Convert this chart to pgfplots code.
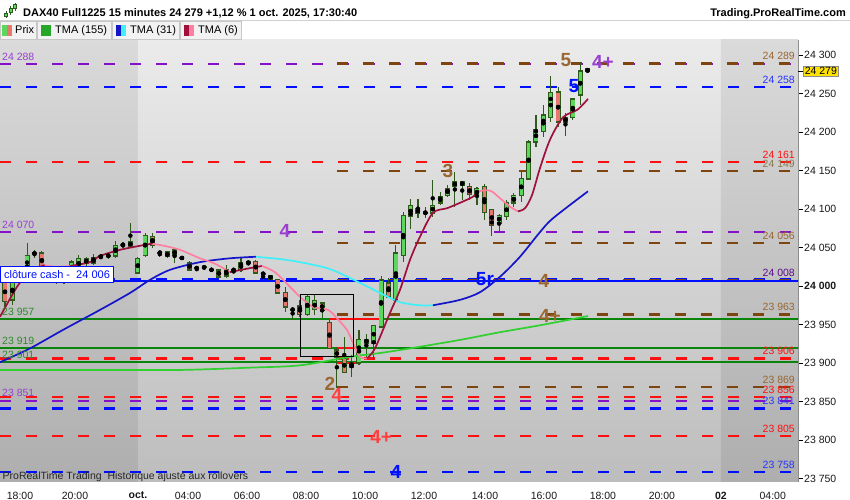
\documentclass[border=0pt]{standalone}
\usepackage{pgfplots}
\pgfplotsset{compat=1.18}
\usepackage{pgfplotstable}
\usepackage{fontspec}
\setmainfont{Liberation Sans}

\definecolor{cUp}{HTML}{5CD65C}
\definecolor{cDn}{HTML}{E8786E}
\definecolor{cWick}{HTML}{2E5A1C}
\definecolor{lvBrown}{HTML}{7F4510}
\definecolor{txBrown}{HTML}{9A6632}
\definecolor{lvPurple}{HTML}{8410C8}
\definecolor{txPurple}{HTML}{9A3FD0}
\definecolor{lvBlue}{HTML}{0010FF}
\definecolor{lvRed}{HTML}{FF1010}
\definecolor{lvGreen}{HTML}{0A840A}
\definecolor{txGreen}{HTML}{2E8B2E}
\definecolor{maGreen}{HTML}{30D030}
\definecolor{maBlue}{HTML}{1414C8}
\definecolor{maCyan}{HTML}{40F0F8}
\definecolor{maDark}{HTML}{A0103C}
\definecolor{maPink}{HTML}{FF7FA0}
\definecolor{bgAtop}{HTML}{DADADA}
\definecolor{bgAbot}{HTML}{AEAEAE}
\definecolor{bgBtop}{HTML}{EBEBEB}
\definecolor{bgBbot}{HTML}{BDBDBD}

% 15 min candles, k = bar index (k=25 is 04:00, k=79 is 17:30)
\pgfplotstableread{
k O H L C
1 23982 24012 23975 24008
2 24008 24016 24004 24012
3 24010 24056 24005 24040
4 24042 24047 24036 24043
9 24015 24034 24005 24031
10 24023 24040 24018 24036
12 24029 24042 24027 24037
13 24038 24040 24035 24039
14 24039 24043 24035 24040
15 24039 24058 24037 24053
16 24053 24057 24049 24054
17 24051 24082 24049 24058
18 24017 24038 24015 24036
19 24040 24069 24038 24066
21 24043 24045 24038 24044
22 24038 24046 24036 24044
26 24023 24025 24019 24024
27 24024 24026 24022 24025
28 24021 24022 24020 24021
30 24013 24027 24010 24021
31 24021 24021 24017 24021
32 24021 24038 24018 24030
33 24030 24031 24028 24031
35 24016 24016 24008 24016
39 23969 23973 23956 23970
41 23963 23990 23961 23986
42 23970 23988 23962 23981
47 23895 23910 23882 23901
48 23900 23943 23897 23931
50 23926 23950 23904 23949
51 23947 24013 23945 24008
53 23982 24053 23980 24043
54 24040 24096 24031 24092
55 24090 24113 24074 24105
57 24095 24103 24088 24095
58 24095 24138 24090 24105
59 24108 24122 24105 24116
60 24118 24131 24116 24127
61 24130 24148 24103 24135
64 24117 24129 24105 24127
67 24082 24093 24069 24092
68 24090 24112 24086 24108
69 24108 24121 24103 24118
70 24118 24148 24109 24140
71 24139 24190 24138 24187
72 24187 24222 24180 24203
73 24201 24235 24194 24222
74 24219 24273 24213 24251
76 24213 24225 24195 24219
77 24219 24243 24216 24243
78 24248 24291 24235 24279
}\upbars

\pgfplotstableread{
k O H L C
0 24005 24015 23970 23980
5 24043 24045 24020 24024
6 24024 24028 24010 24015
7 24015 24025 24003 24012
8 24012 24022 24003 24010
11 24036 24038 24026 24029
20 24064 24069 24050 24053
23 24047 24048 24030 24040
24 24037 24038 24035 24036
25 24030 24033 24019 24021
29 24021 24022 24011 24012
34 24032 24034 24016 24017
36 24014 24015 24008 24009
37 24008 24009 23990 23991
38 23992 23999 23966 23973
40 23974 23982 23960 23963
43 23978 23979 23958 23969
44 23953 23956 23918 23919
45 23917 23921 23868 23908
46 23906 23934 23887 23888
49 23931 23938 23908 23926
52 24004 24010 23984 23986
56 24100 24113 24088 24095
62 24135 24136 24112 24131
63 24129 24134 24112 24119
65 24129 24132 24086 24096
66 24099 24100 24065 24079
75 24252 24258 24206 24213
79 24282 24283 24276 24279
}\downbars

\pgfplotsset{
  bar part/.style 2 args={only marks, mark=none, forget plot,
    error bars/.cd, y dir=both, y explicit, error mark=none,
    error bar style={line width=#1, color=#2}},
  lvl/.style={line width=2.2bp, dash pattern=on 11bp off 15bp, forget plot, mark=none},
  solidlvl/.style={line width=2bp, forget plot, mark=none},
  ma/.style={line width=1.7bp, smooth, tension=0.5, forget plot, mark=none},
}
\tikzset{
  rlab/.style={anchor=base east, inner sep=0pt, font=\fontsize{10.5bp}{12bp}\selectfont},
  llab/.style={anchor=base west, inner sep=0pt, font=\fontsize{10.5bp}{12bp}\selectfont},
  ann/.style={inner sep=0pt, font=\fontsize{19bp}{19bp}\selectfont\bfseries},
}

\begin{document}
\begin{tikzpicture}[x=1bp,y=1bp]
\useasboundingbox (0,0) rectangle (850,500);
\fill[white] (0,0) rectangle (850,500);

\begin{axis}[
  at={(0bp,18bp)}, anchor=south west,
  width=798bp, height=442bp, scale only axis,
  xmin=-0.678, xmax=107.53, ymin=23745.5, ymax=24319.5,
  axis x line*=bottom, axis y line*=right,
  x axis line style={draw=none},
  y axis line style={draw=black!40, line width=0.6bp},
  scaled y ticks=false, scaled x ticks=false,
  xtick={2.03,9.49,18.03,24.81,32.81,40.81,48.81,56.81,65.08,73.08,81.08,89.08,97.08,104.1},
  xticklabels={18:00,20:00,\textbf{oct.},04:00,06:00,08:00,10:00,12:00,14:00,16:00,18:00,20:00,\textbf{02},04:00},
  ytick={23750,23800,23850,23900,23950,24000,24050,24100,24150,24200,24250,24300},
  yticklabels={23 750,23 800,23 850,23 900,23 950,\textbf{24 000},24 050,24 100,24 150,24 200,24 250,24 300},
  xtick style={draw=none},
  ytick style={draw=black, line width=0.6bp},
  tick align=outside, major tick length=4.5bp,
  tick label style={font=\fontsize{10.5bp}{12bp}\selectfont, text=black!90},
  yticklabel style={inner sep=1.5bp},
  xticklabel style={inner sep=5bp},
]

% background bands (day shading)
\fill[top color=bgAtop, bottom color=bgAbot] (axis cs:-1,23745.5) rectangle (axis cs:18.03,24319.5);
\fill[top color=bgBtop, bottom color=bgBbot] (axis cs:18.03,23745.5) rectangle (axis cs:97.08,24319.5);
\fill[top color=bgAtop, bottom color=bgAbot] (axis cs:97.08,23745.5) rectangle (axis cs:109,24319.5);

% solid levels
\addplot[solidlvl, lvGreen] coordinates {(-1,23957) (109,23957)};
\addplot[solidlvl, lvGreen] coordinates {(-1,23919) (109,23919)};
\addplot[solidlvl, lvGreen] coordinates {(-1,23901) (109,23901)};

% dashed levels, full width
\addplot[lvl, lvPurple] coordinates {(-0.678,24288) (109,24288)};
\addplot[lvl, lvBlue] coordinates {(-0.678,24258) (109,24258)};
\addplot[lvl, lvRed] coordinates {(-0.678,24161) (109,24161)};
\addplot[lvl, lvPurple] coordinates {(-0.678,24070) (109,24070)};
\addplot[lvl, lvBlue] coordinates {(-0.678,24009) (109,24009)};
\addplot[lvl, lvRed] coordinates {(-0.678,23906) (109,23906)};
\addplot[lvl, lvRed] coordinates {(-0.678,23856) (109,23856)};
\addplot[lvl, lvPurple] coordinates {(-0.678,23851) (109,23851)};
\addplot[lvl, lvBlue] coordinates {(-0.678,23841) (109,23841)};
\addplot[lvl, lvRed] coordinates {(-0.678,23805) (109,23805)};
\addplot[lvl, lvBlue] coordinates {(-0.678,23758) (109,23758)};

% dashed levels from the 09:15 bar
\addplot[lvl, lvBrown] coordinates {(45,24289) (109,24289)};
\addplot[lvl, lvBrown] coordinates {(45,24149) (109,24149)};
\addplot[lvl, lvBrown] coordinates {(45,24056) (109,24056)};
\addplot[lvl, lvBrown] coordinates {(45,24008) (109,24008)};
\addplot[lvl, lvBrown] coordinates {(45,23963) (109,23963)};
\addplot[lvl, lvBrown] coordinates {(45,23869) (109,23869)};

% cash close
\addplot[solidlvl, lvBlue] coordinates {(-1,24006) (109,24006)};

% short red marks
\addplot[solidlvl, lvRed] coordinates {(44.07,23957) (51.1,23957)};
\addplot[solidlvl, lvRed] coordinates {(45,23919) (48.1,23919)};
\addplot[solidlvl, lvRed] coordinates {(45,23900) (48.1,23900)};

% candles: wicks, body outline, body fill
\addplot[bar part={1.1bp}{cWick}] table[x=k, y expr={(\thisrow{H}+\thisrow{L})/2}, y error expr={(\thisrow{H}-\thisrow{L})/2}] \upbars;
\addplot[bar part={1.1bp}{cWick}] table[x=k, y expr={(\thisrow{H}+\thisrow{L})/2}, y error expr={(\thisrow{H}-\thisrow{L})/2}] \downbars;
\addplot[bar part={5bp}{cWick}] table[x=k, y expr={(\thisrow{O}+\thisrow{C})/2}, y error expr={abs(\thisrow{O}-\thisrow{C})/2+0.9}] \upbars;
\addplot[bar part={5bp}{cWick}] table[x=k, y expr={(\thisrow{O}+\thisrow{C})/2}, y error expr={abs(\thisrow{O}-\thisrow{C})/2+0.9}] \downbars;
\addplot[bar part={3.3bp}{cUp}] table[x=k, y expr={(\thisrow{O}+\thisrow{C})/2}, y error expr={max(abs(\thisrow{O}-\thisrow{C})/2-0.8,0)}] \upbars;
\addplot[bar part={3.3bp}{cDn}] table[x=k, y expr={(\thisrow{O}+\thisrow{C})/2}, y error expr={max(abs(\thisrow{O}-\thisrow{C})/2-0.8,0)}] \downbars;

% TMA (155)
\addplot[ma, maGreen] coordinates {(-0.68,23891) (12.88,23891) (23.73,23891) (33.22,23894) (40.0,23897) (46.78,23908) (50.85,23913) (54.92,23919) (61.69,23930) (67.12,23940) (72.54,23949) (79.05,23961)};

% TMA (31)
\addplot[ma, maBlue] coordinates {(-0.68,23901) (3.39,23919) (7.86,23943) (12.88,23969) (16.95,23991) (19.66,24008) (22.37,24021) (26.44,24031) (30.51,24036) (34.03,24038)};
\addplot[ma, maCyan] coordinates {(34.03,24038) (37.29,24035) (40.0,24031) (44.07,24022) (48.14,24004) (50.85,23991) (53.56,23979) (56.27,23975) (58.03,23975)};
\addplot[ma, maBlue] coordinates {(58.03,23975) (61.69,23982) (64.41,23992) (67.12,24012) (69.83,24038) (72.54,24070) (74.31,24088) (79.05,24123)};

% TMA (6)
\addplot[ma, maDark] coordinates {(-0.68,23960) (1.63,23999) (2.98,24014) (4.75,24025) (5.4,24027)};
\addplot[ma, maPink] coordinates {(5.4,24027) (6.9,24025) (8.81,24026)};
\addplot[ma, maDark] coordinates {(8.81,24026) (11.53,24031) (12.88,24039) (15.59,24047) (18.71,24053) (19.93,24055)};
\addplot[ma, maPink] coordinates {(19.93,24055) (21.69,24052) (23.73,24047) (26.44,24036) (28.47,24029) (30.51,24018)};
\addplot[ma, maDark] coordinates {(30.51,24018) (32.54,24022) (34.85,24026)};
\addplot[ma, maPink] coordinates {(34.85,24026) (36.61,24018) (38.64,23999) (40.0,23986) (41.76,23973) (43.8,23969) (45.02,23958) (46.37,23943) (47.19,23926) (48.14,23908) (49.08,23906)};
\addplot[ma, maDark] coordinates {(49.08,23906) (50.17,23919) (52.2,23965) (53.56,23995) (54.92,24034) (56.27,24064) (58.03,24095) (59.93,24101) (61.69,24108) (63.46,24116) (64.14,24123)};
\addplot[ma, maPink] coordinates {(64.14,24123) (65.76,24124) (67.12,24114) (68.47,24103) (69.56,24097)};
\addplot[ma, maDark] coordinates {(69.56,24097) (70.51,24101) (71.46,24118) (72.54,24153) (73.9,24190) (75.66,24219) (77.63,24229) (79.05,24243)};

% frame drawn on the chart
\draw[black, line width=0.9bp] (axis cs:40.0,23989.6) rectangle (axis cs:47.19,23909);

% level labels, right
\node[rlab, text=txBrown] at (axis cs:107.12,24294) {24 289};
\node[rlab, text=lvBlue!85!white] at (axis cs:107.12,24263) {24 258};
\node[rlab, text=lvRed] at (axis cs:107.12,24166) {24 161};
\node[rlab, text=black!70!yellow!60!brown] at (axis cs:107.12,24154) {24 149};
\node[rlab, text=txBrown] at (axis cs:107.12,24061) {24 056};
\node[rlab, text=lvPurple!70!black] at (axis cs:107.12,24013) {24 008};
\node[rlab, text=txBrown] at (axis cs:107.12,23968) {23 963};
\node[rlab, text=lvRed] at (axis cs:107.12,23911) {23 906};
\node[rlab, text=txBrown] at (axis cs:107.12,23874) {23 869};
\node[rlab, text=lvRed] at (axis cs:107.12,23861) {23 856};
\node[rlab, text=lvBlue!85!white] at (axis cs:107.12,23846) {23 841};
\node[rlab, text=lvRed] at (axis cs:107.12,23810) {23 805};
\node[rlab, text=lvBlue!85!white] at (axis cs:107.12,23763) {23 758};

% level labels, left
\node[llab, text=txPurple] at (axis cs:-0.41,24293) {24 288};
\node[llab, text=txPurple] at (axis cs:-0.41,24075) {24 070};
\node[llab, text=txGreen] at (axis cs:-0.41,23962) {23 957};
\node[llab, text=txGreen] at (axis cs:-0.41,23924) {23 919};
\node[llab, text=txGreen] at (axis cs:-0.41,23906) {23 901};
\node[llab, text=txPurple] at (axis cs:-0.41,23856) {23 851};

% wave marks
\node[ann, text=txBrown] at (axis cs:76.07,24293) {5};
\node[ann, text=txPurple] at (axis cs:81.08,24291) {4+};
\node[ann, text=lvBlue] at (axis cs:77.15,24260) {5};
\node[ann, text=txBrown] at (axis cs:60.07,24149) {3};
\node[ann, text=txPurple] at (axis cs:37.97,24071) {4};
\node[ann, text=lvBlue] at (axis cs:65.08,24009) {5r};
\node[ann, text=txBrown] at (axis cs:73.08,24006) {4};
\node[ann, text=txBrown] at (axis cs:73.9,23961) {4+};
\node[ann, text=txBrown] at (axis cs:44.07,23873) {2};
\node[ann, text=lvRed!80!white] at (axis cs:45.0,23858) {4};
\node[ann, text=lvRed!80!white] at (axis cs:51.0,23804) {4+};
\node[ann, text=lvBlue] at (axis cs:53.0,23758) {4};
\end{axis}

% header line 1
\draw[black!18] (0,479.5) -- (850,479.5);
\foreach \cx/\bt/\bb/\wt/\wb in {6/484/487/482/489, 10.5/488/492/485/494, 15/492/496/489/497}{
  \draw[cWick, line width=0.8bp] (\cx,\wb) -- (\cx,\wt);
  \fill[cUp, draw=cWick, line width=0.5bp] (\cx-1.6,\bb) rectangle (\cx+1.6,\bt);
}
\node[anchor=base west, inner sep=0pt, font=\fontsize{11bp}{13bp}\selectfont\bfseries] at (23,483.5) {DAX40 Full1225 15 minutes 24 279 +1,12 \% 1 oct. 2025, 17:30:40};
\node[anchor=base east, inner sep=0pt, font=\fontsize{11bp}{13bp}\selectfont\bfseries] at (846,483.5) {Trading.ProRealTime.com};

% header line 2: legend boxes
\foreach \xa/\xb in {0/37, 37/112, 112/180, 180/242}{
  \fill[black!5, draw=black!22, line width=0.6bp] (\xa+0.3,461) rectangle (\xb-0.3,478.5);
}
\fill[cUp] (2,464) rectangle (7,475); \fill[cDn] (7,464) rectangle (12,475);
\fill[maGreen!80!black] (41,464) rectangle (51,475);
\fill[maBlue] (116,464) rectangle (121,475); \fill[maCyan] (121,464) rectangle (126,475);
\fill[maDark] (184,464) rectangle (189,475); \fill[maPink] (189,464) rectangle (194,475);
\begin{scope}[every node/.style={anchor=base west, inner sep=0pt, font=\fontsize{11bp}{13bp}\selectfont}]
\node at (15,466) {Prix};
\node at (55,466) {TMA (155)};
\node at (130,466) {TMA (31)};
\node at (198,466) {TMA (6)};
\end{scope}

% cash close box and footer text
\node[draw=lvBlue, fill=white, line width=1bp, anchor=west, minimum height=16bp, minimum width=112bp, inner sep=2bp, text=lvBlue, font=\fontsize{11bp}{13bp}\selectfont] at (0.5,225) {clôture cash -\ \ 24 006};
\node[anchor=base west, inner sep=0pt, text=black!85, font=\fontsize{10.5bp}{12bp}\selectfont] at (2.5,20.5) {ProRealTime Trading\ \ Historique ajusté aux rollovers};

% current price marker
\draw[black, line width=0.8bp] (798,428.8) -- (803,428.8);
\node[fill=yellow!85!orange, draw=black!45, line width=0.5bp, anchor=west, inner sep=1.5bp, font=\fontsize{10.5bp}{12bp}\selectfont] at (803,428.8) {24 279};
\end{tikzpicture}
\end{document}
